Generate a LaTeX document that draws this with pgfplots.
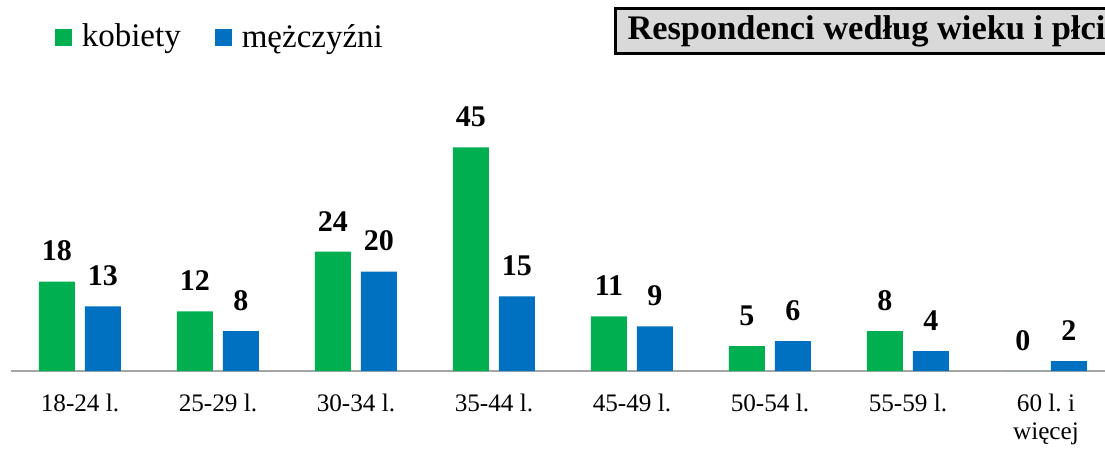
\documentclass[border=0pt]{standalone}
\usepackage{pgfplots}
\pgfplotsset{compat=1.18}
\usepackage{fontspec}
\setmainfont{Liberation Serif}
\frenchspacing

\definecolor{kgreen}{HTML}{00B050}
\definecolor{mblue}{HTML}{0070C0}
\definecolor{axgray}{HTML}{A6A6A6}
\definecolor{boxgray}{HTML}{D9D9D9}

\begin{document}
\begin{tikzpicture}
  % page = 1105x450 px at 0.5pt per px
  \path[use as bounding box] (-5.5pt,-39.5pt) rectangle (547pt,185.5pt);

  \begin{axis}[
      at={(0,0)}, anchor=south west,
      scale only axis,
      width=552pt, height=124.25pt,
      xmin=-0.5, xmax=7.5,
      ymin=0, ymax=50,
      ybar=5pt, bar width=18pt,
      axis x line*=bottom,
      axis y line=none,
      x axis line style={axgray, line width=1.2pt, -},
      xtick={0,...,7},
      major tick length=0pt,
      xticklabels={18-24 l., 25-29 l., 30-34 l., 35-44 l., 45-49 l., 50-54 l., 55-59 l., {60 l.\ i\\więcej}},
      xticklabel style={anchor=north, inner sep=0pt, yshift=-11.5pt, align=center,
        font=\fontsize{12.6}{14}\selectfont},
      nodes near coords,
      /pgf/number format/assume math mode=true,
      every node near coord/.append style={font=\fontsize{15}{18}\bfseries\selectfont,
        anchor=south, inner sep=0pt, yshift=10pt},
      clip=false,
      legend style={draw=none, fill=none, inner sep=0pt,
        at={(0.0393,1.344)}, anchor=west,
        font=\fontsize{16.5}{19}\selectfont,
        legend columns=2,
        /tikz/every even column/.append style={column sep=15pt}},
  ]
  \addplot[fill=kgreen, draw=none,
    legend image code/.code={\fill[kgreen] (0pt,-4.25pt) rectangle (8.5pt,4.25pt);
      \path (11.5pt,0pt);}]
    coordinates {(0,18) (1,12) (2,24) (3,45) (4,11) (5,5) (6,8) (7,0)};
  \addlegendentry{kobiety}
  \addplot[fill=mblue, draw=none,
    legend image code/.code={\fill[mblue] (0pt,-4.25pt) rectangle (8.5pt,4.25pt);
      \path (11.5pt,0pt);}]
    coordinates {(0,13) (1,8) (2,20) (3,15) (4,9) (5,6) (6,4) (7,2)};
  \addlegendentry{mężczyźni}
  \end{axis}

  % title box, cut off at the right edge as in the reference
  \node[draw=black, line width=1.5pt, fill=boxgray, anchor=west,
        inner xsep=6pt, minimum height=22pt,
        font=\fontsize{17.2}{20}\bfseries\selectfont]
    at (301.5pt,170pt) {Respondenci według wieku i płci};
\end{tikzpicture}
\end{document}
